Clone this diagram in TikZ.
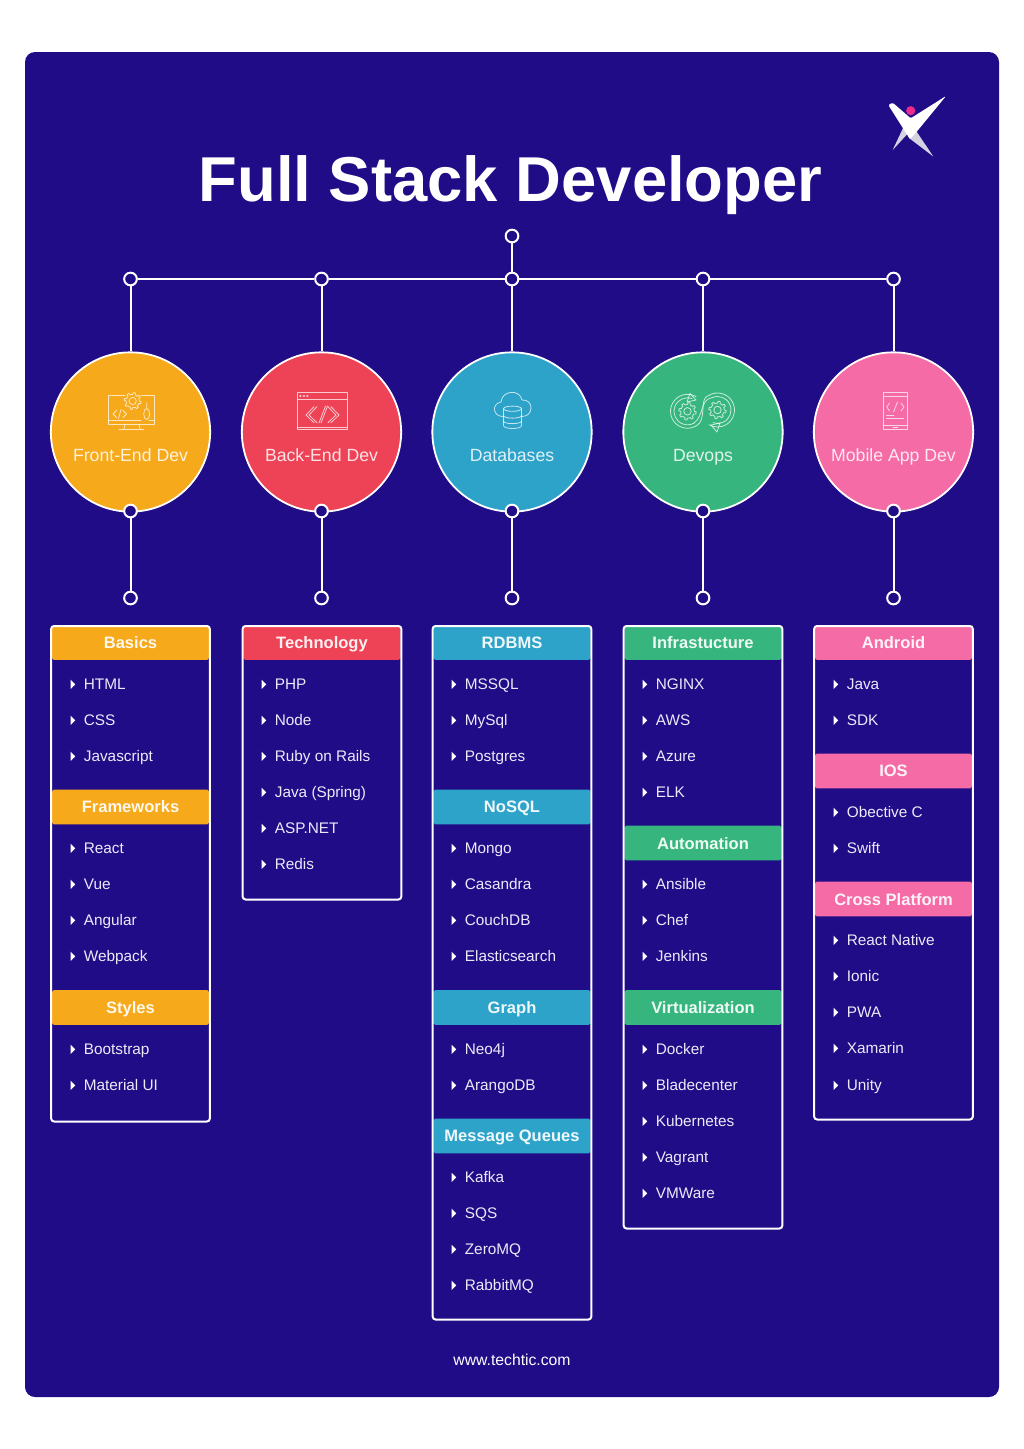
\documentclass[tikz,border=0pt]{standalone}
\usepackage{fontspec}
\setmainfont{Liberation Sans}
\usetikzlibrary{arrows.meta}
\definecolor{bgc}{HTML}{210C87}
\definecolor{cA}{HTML}{F6A91B}
\definecolor{cB}{HTML}{EE4356}
\definecolor{cC}{HTML}{2EA3C9}
\definecolor{cD}{HTML}{36B67E}
\definecolor{cE}{HTML}{F46BA6}
\definecolor{lilac}{HTML}{EDEAF8}
\definecolor{logodot}{HTML}{EE2A8C}
\definecolor{logogrey}{HTML}{D4D2E2}
\newcommand{\gearicon}[3]{%
  \draw[icon] plot[samples=97,domain=0:360,variable=\aa]
    ({#1+#3*((sin(8*\aa)>0?1.28:1))*cos(\aa)},{#2+#3*((sin(8*\aa)>0?1.28:1))*sin(\aa)}) -- cycle;
  \draw[icon] (#1,#2) circle ({0.55*#3});
}
\tikzset{
  ring/.style={circle,draw=white,line width=1.5pt,fill=bgc,minimum size=9.5pt,inner sep=0pt},
  link/.style={draw=white,line width=1.5pt},
  topic/.style={circle,draw=white,line width=1.35pt,minimum size=119.5pt,inner sep=0pt},
  topiclabel/.style={anchor=base,inner sep=0pt,text=white,text opacity=.85,font=\fontsize{13.25pt}{16pt}\selectfont},
  card/.style={draw=white,line width=1.5pt,rounded corners=2.2pt,minimum width=119pt,anchor=north,inner sep=0pt},
  hdr/.style={rounded corners=1.4pt,minimum width=118pt,minimum height=26pt,inner sep=0pt,text=white,text opacity=.92,
     text depth=0pt,font=\bfseries\fontsize{12.4pt}{15pt}\selectfont},
  entry/.style={anchor=base west,inner sep=0pt,text=lilac,font=\fontsize{11.5pt}{14pt}\selectfont},
  icon/.style={draw=white,draw opacity=.72,line width=.6pt,line join=round,line cap=round},
}
\begin{document}
\begin{tikzpicture}[x=0.75pt,y=-0.75pt]
\useasboundingbox (0,0) rectangle (1024,1449);
\fill[white] (0,0) rectangle (1024,1449);
\fill[bgc,rounded corners=7.5pt] (25,52) rectangle (999,1397);
% title
\node[anchor=base,inner sep=0pt,text=white,font=\bfseries\fontsize{47.55pt}{52pt}\selectfont] (title) at (510.5,201) {Full Stack Developer};
% logo
\fill[logogrey] (892.7,150) -- (911,130) -- (904,126) -- cycle;
\fill[logogrey] (933.3,156.5) -- (915.5,130) -- (909,138) -- cycle;
\fill[white,rounded corners=1pt] (888.3,105) -- (892.7,102.7) -- (910.7,118.3) -- (946,96) -- (916.7,131.7) -- (910,139.3) -- cycle;
\fill[logodot] (910.7,110.7) circle (4.6);
% topic circles
\foreach \col/\cx/\lab in {A/130.5/Front-End Dev,B/321.5/Back-End Dev,C/512/Databases,D/703/Devops,E/893.5/Mobile App Dev}{
  \node[topic,fill=c\col] (circ\col) at (\cx,432) {};
  \node[topiclabel] (lab\col) at (\cx,461) {\lab};
  \node[ring] (junc\col) at (\cx,279) {};
  \node[ring] (low\col) at (\cx,511) {};
  \node[ring] (end\col) at (\cx,598) {};
  \draw[link] (junc\col) -- (circ\col);
  \draw[link] (low\col) -- (end\col);
}
\node[ring] (root) at (512,236) {};
\draw[link] (root) -- (juncC);
\draw[link] (juncA) -- (juncB);
\draw[link] (juncB) -- (juncC);
\draw[link] (juncC) -- (juncD);
\draw[link] (juncD) -- (juncE);
% headers
\foreach \col/\cx/\cy/\lab in {
  A/130.5/642.5/Basics,A/130.5/807/Frameworks,A/130.5/1007.5/Styles,
  B/322/642.5/Technology,
  C/512/642.5/RDBMS,C/512/807/NoSQL,C/512/1007.5/Graph,C/512/1136/Message Queues,
  D/703/642.5/Infrastucture,D/703/843/Automation,D/703/1007.5/Virtualization,
  E/893.5/642.5/Android,E/893.5/771/IOS,E/893.5/899/Cross Platform}{
  \node[hdr,fill=c\col] (head\col\cy) at (\cx,\cy) {\lab};
}
% cards
\foreach \col/\cx/\cb in {A/130.5/1122,B/322/900,C/512/1320,D/703/1229,E/893.5/1120}{
  \node[card,minimum height={(\cb-626.5)*0.75pt}] (card\col) at (\cx,625) {};
}
% list entries
\foreach \col/\tx/\lst in {
  A/84/{684/HTML,720/CSS,756/Javascript,848/React,884/Vue,920/Angular,956/Webpack,1049/Bootstrap,1085/Material UI},
  B/275/{684/PHP,720/Node,756/Ruby on Rails,792/Java (Spring),828/ASP.NET,864/Redis},
  C/465/{684/MSSQL,720/MySql,756/Postgres,848/Mongo,884/Casandra,920/CouchDB,956/Elasticsearch,1049/Neo4j,1085/ArangoDB,1177/Kafka,1213/SQS,1249/ZeroMQ,1285/RabbitMQ},
  D/656/{684/NGINX,720/AWS,756/Azure,792/ELK,884/Ansible,920/Chef,956/Jenkins,1049/Docker,1085/Bladecenter,1121/Kubernetes,1157/Vagrant,1193/VMWare},
  E/847/{684/Java,720/SDK,812/Obective C,848/Swift,940/React Native,976/Ionic,1012/PWA,1048/Xamarin,1085/Unity}}{
  \foreach \ey/\etxt in \lst {
    \node[entry,xshift=-0.3pt] (\col\ey) at (\tx,\ey+5.2) {\etxt};
    \fill[white] (\tx-13.5,\ey-4.5) -- (\tx-8.8,\ey+.3) -- (\tx-13.5,\ey+5) -- cycle;
  }
}
% footer
\node[anchor=base,inner sep=0pt,text=white,font=\fontsize{11.8pt}{14pt}\selectfont] (site) at (512,1365) {www.techtic.com};
% icon: front-end
\draw[icon] (125,395) -- (108.3,395) -- (108.3,424.3) -- (154,424.3) -- (154,395) -- (141,395);
\draw[icon] (108.3,420.5) -- (141,420.5);
\draw[icon] (149,420.5) -- (154,420.5);
\draw[icon] (125,424.3) -- (124,429) (139,424.3) -- (140,429) (119,429.5) -- (144,429.5);
\gearicon{132.7}{401}{6.6}
\draw[icon] (146.7,414) ellipse (3 and 5.5) (146.7,408.5) -- (146.7,403);
\draw[icon] (116.5,410.5) -- (113,414) -- (116.5,417.5) (121,409.5) -- (118.5,418.5) (123,410.5) -- (126.5,414) -- (123,417.5);
% icon: back-end
\draw[icon] (297.3,392.3) rectangle (347.3,429.3);
\draw[icon] (297.3,399.3) -- (347.3,399.3) (297.3,427.3) -- (347.3,427.3);
\draw[icon,dotted,line width=1.1pt] (300,396) -- (310,396);
\draw[icon] (314,406.7) -- (306,415) -- (314,422.7) (317,406.7) -- (309,415) -- (317,422.7);
\draw[icon] (325.5,406) -- (319,423) (327.5,406) -- (321,423);
\draw[icon] (328,406.7) -- (336,415) -- (328,422.7) (331,406.7) -- (339,415) -- (331,422.7);
% icon: databases
\draw[icon] (503,416.5) .. controls (493,416.5) and (491,404) .. (501,402) .. controls (502,390) and (520,389) .. (522,400) .. controls (534,399) and (534,416.5) .. (522,416.5);
\draw[icon] (512.5,408.7) ellipse (9 and 2.6);
\draw[icon] (503.5,408.7) -- (503.5,425.5) .. controls (503.5,429.5) and (521.5,429.5) .. (521.5,425.5) -- (521.5,408.7);
\draw[icon] (503.5,415.5) .. controls (503.5,419) and (521.5,419) .. (521.5,415.5);
\draw[icon] (503.5,421) .. controls (503.5,424.5) and (521.5,424.5) .. (521.5,421);
% icon: devops
\gearicon{687.5}{411.3}{6.8}
\gearicon{717.5}{410}{6.8}
\draw[icon] (687.5,411.3) ++(-60:17) arc[start angle=-60,end angle=-300,radius=17];
\draw[icon] (687.5,411.3) ++(-70:13.5) arc[start angle=-70,end angle=-300,radius=13.5];
\draw[icon] (717.5,410) ++(-120:17) arc[start angle=-120,end angle=120,radius=17];
\draw[icon] (717.5,410) ++(-115:13.5) arc[start angle=-115,end angle=110,radius=13.5];
\draw[icon] (696,426) .. controls (708,420) and (698,398) .. (709,395.3);
\draw[icon] (694,423) .. controls (704,416) and (700,400) .. (711.5,397.8);
\draw[icon] (690,393.5) -- (696,400) -- (687,402) -- cycle;
\draw[icon] (717,432) -- (711,425) -- (720,423) -- cycle;
% icon: mobile
\draw[icon] (883.6,392.3) rectangle (907.3,429.3);
\draw[icon] (883.6,396.3) -- (907.3,396.3) (883.6,425.3) -- (907.3,425.3) (893,427.5) -- (898,427.5);
\draw[icon] (889.5,403) -- (886.8,407) -- (889.5,411) (897.5,402) -- (893.5,412) (901,403) -- (904,407) -- (901,411);
\draw[icon] (886.6,415) -- (893.8,415) (886.6,418) -- (903.6,418);
\end{tikzpicture}
\end{document}
